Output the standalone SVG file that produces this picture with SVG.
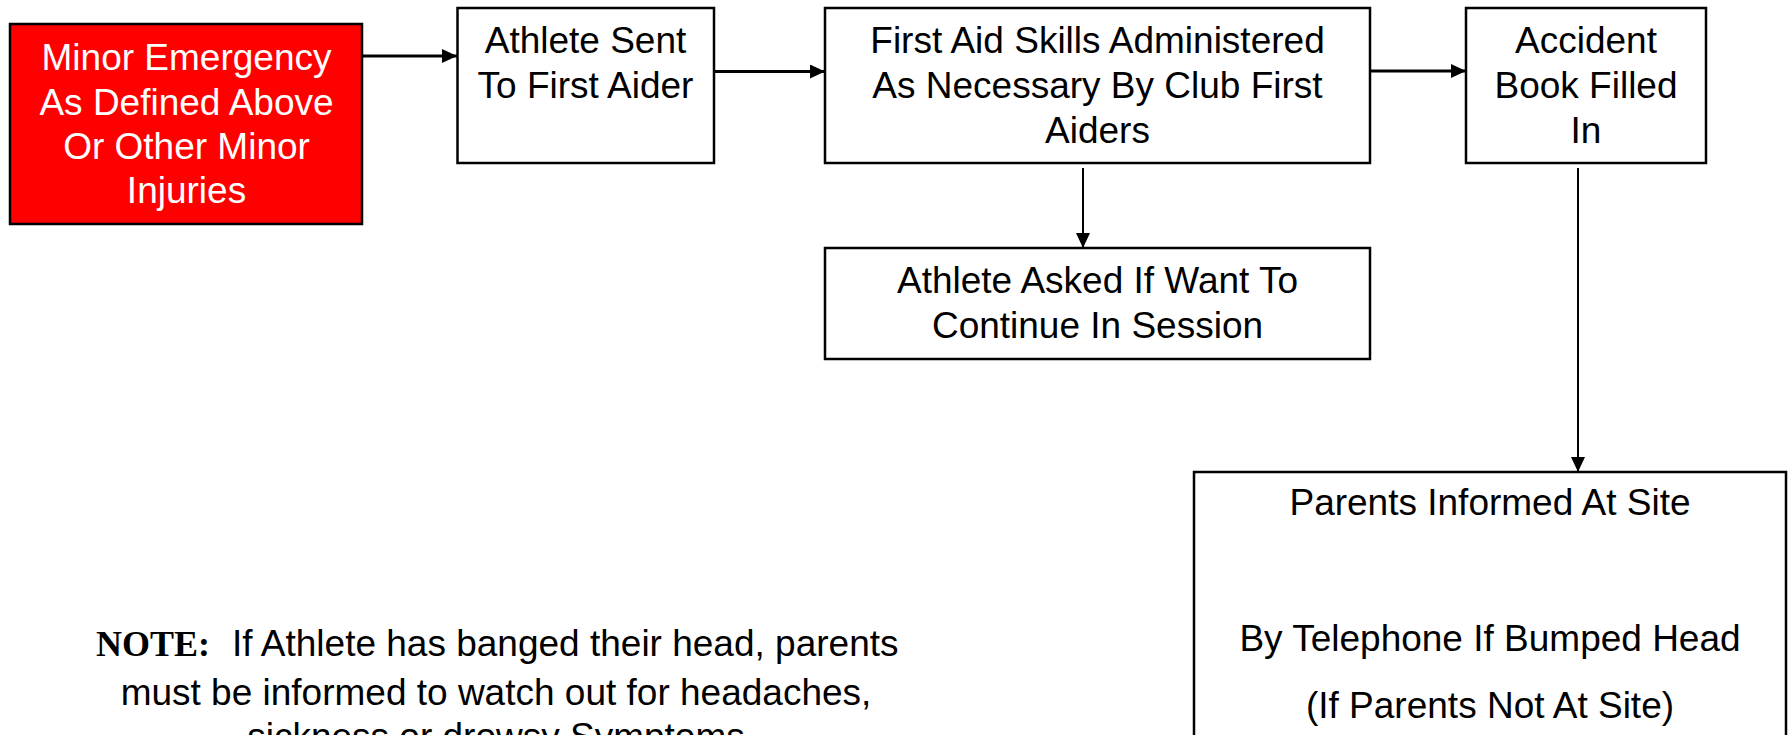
<svg xmlns="http://www.w3.org/2000/svg" width="1791" height="735" viewBox="0 0 1791 735">
  <style>
    .box { fill: #ffffff; stroke: #000000; stroke-width: 2.5; }
    .red { fill: #ff0000; stroke: #000000; stroke-width: 2.5; }
    .t { font-family: "Liberation Sans", Arial, sans-serif; font-size: 37px; fill: #000000; text-anchor: middle; }
    .tw { font-family: "Liberation Sans", Arial, sans-serif; font-size: 37px; fill: #ffffff; text-anchor: middle; }
    .note { font-family: "Liberation Sans", Arial, sans-serif; font-size: 37px; fill: #000000; }
    .noteb { font-family: "Liberation Serif", "Times New Roman", serif; font-size: 36px; font-weight: bold; fill: #000000; }
    .c3 { stroke: #000000; stroke-width: 3; fill: none; marker-end: url(#ah); }
    .c2 { stroke: #000000; stroke-width: 2; fill: none; marker-end: url(#ah); }
  </style>
  <defs>
    <marker id="ah" viewBox="0 0 15 14" refX="15" refY="7" markerWidth="15" markerHeight="14" orient="auto" markerUnits="userSpaceOnUse">
      <path d="M0,0 L15,7 L0,14 z" fill="#000000"/>
    </marker>
  </defs>
  <rect width="1791" height="735" fill="#ffffff"/>

  <g id="connectors">
    <line class="c3" x1="362" y1="56" x2="457" y2="56"/>
    <line class="c3" x1="714" y1="71.5" x2="825" y2="71.5"/>
    <line class="c3" x1="1370" y1="71" x2="1466" y2="71"/>
    <line class="c2" x1="1083" y1="168" x2="1083" y2="248"/>
    <line class="c2" x1="1578" y1="168" x2="1578" y2="472"/>
  </g>

  <g id="node-minor-emergency">
    <rect class="red" x="10" y="24" width="352" height="200"/>
    <text class="tw" x="186.5" y="70">Minor Emergency</text>
    <text class="tw" x="186.5" y="114.5">As Defined Above</text>
    <text class="tw" x="186.5" y="159">Or Other Minor</text>
    <text class="tw" x="186.5" y="203">Injuries</text>
  </g>

  <g id="node-athlete-sent">
    <rect class="box" x="457.5" y="8" width="256.5" height="155"/>
    <text class="t" x="585.5" y="53">Athlete Sent</text>
    <text class="t" x="585.5" y="98">To First Aider</text>
  </g>

  <g id="node-first-aid">
    <rect class="box" x="825" y="8" width="545" height="155"/>
    <text class="t" x="1097.5" y="53">First Aid Skills Administered</text>
    <text class="t" x="1097.5" y="98">As Necessary By Club First</text>
    <text class="t" x="1097.5" y="143">Aiders</text>
  </g>

  <g id="node-accident-book">
    <rect class="box" x="1466" y="8" width="240" height="155"/>
    <text class="t" x="1586" y="53">Accident</text>
    <text class="t" x="1586" y="98">Book Filled</text>
    <text class="t" x="1586" y="143">In</text>
  </g>

  <g id="node-athlete-asked">
    <rect class="box" x="825" y="248" width="545" height="111"/>
    <text class="t" x="1097.5" y="293">Athlete Asked If Want To</text>
    <text class="t" x="1097.5" y="338">Continue In Session</text>
  </g>

  <g id="node-parents-informed">
    <rect class="box" x="1194" y="472" width="592" height="290"/>
    <text class="t" x="1490" y="515">Parents Informed At Site</text>
    <text class="t" x="1490" y="651">By Telephone If Bumped Head</text>
    <text class="t" x="1490" y="718">(If Parents Not At Site)</text>
  </g>

  <g id="note">
    <text x="96" y="656"><tspan class="noteb">NOTE:</tspan><tspan class="note" x="232">If Athlete has banged their head, parents</tspan></text>
    <text class="t" x="496" y="705">must be informed to watch out for headaches,</text>
    <text class="t" x="496" y="749">sickness or drowsy Symptoms</text>
  </g>
</svg>
